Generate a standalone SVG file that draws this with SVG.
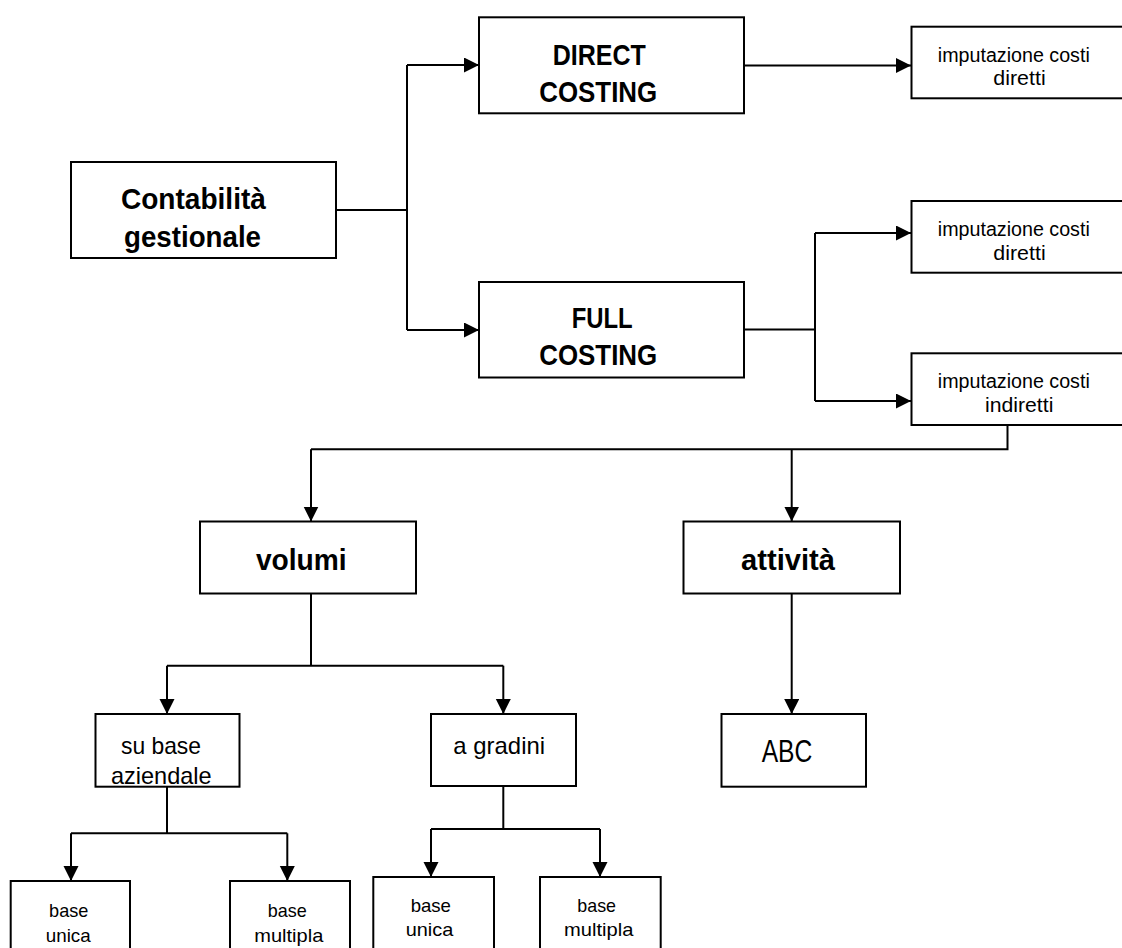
<svg xmlns="http://www.w3.org/2000/svg" width="1122" height="948" viewBox="0 0 1122 948">
<style>
.box{fill:#fff;stroke:#000;stroke-width:2}
.ln{fill:none;stroke:#000;stroke-width:2}
text{font-family:"Liberation Sans",Arial,sans-serif;fill:#000;text-anchor:middle}
.b{font-weight:bold;font-size:30px}
.r{font-size:20px}
.m{font-size:24px}
.s{font-size:19px}
.l{font-size:31px}
</style>
<defs>
<marker id="ah" markerUnits="userSpaceOnUse" markerWidth="16" markerHeight="16" refX="15" refY="7.5" orient="auto">
<path d="M0,0 L15,7.5 L0,15 Z" fill="#000"/>
</marker>
</defs>
<rect width="1122" height="948" fill="#fff"/>
<g id="connectors">
<path class="ln" d="M336,210 H407"/>
<path class="ln" d="M407,65 V330"/>
<path class="ln" d="M407,65 H479" marker-end="url(#ah)"/>
<path class="ln" d="M407,330 H479" marker-end="url(#ah)"/>
<path class="ln" d="M744,65.5 H911" marker-end="url(#ah)"/>
<path class="ln" d="M744,329.5 H815"/>
<path class="ln" d="M815,233 V401"/>
<path class="ln" d="M815,233 H911" marker-end="url(#ah)"/>
<path class="ln" d="M815,401 H911" marker-end="url(#ah)"/>
<path class="ln" d="M1007.5,425 V449.3 H311"/>
<path class="ln" d="M311,449.3 V521.5" marker-end="url(#ah)"/>
<path class="ln" d="M791.7,449.3 V521.5" marker-end="url(#ah)"/>
<path class="ln" d="M311,593.5 V665.7"/>
<path class="ln" d="M167,665.7 H503.3"/>
<path class="ln" d="M167,665.7 V714" marker-end="url(#ah)"/>
<path class="ln" d="M503.3,665.7 V714" marker-end="url(#ah)"/>
<path class="ln" d="M791.7,593.5 V714" marker-end="url(#ah)"/>
<path class="ln" d="M167,786.7 V833.3"/>
<path class="ln" d="M71,833.3 H287.3"/>
<path class="ln" d="M71,833.3 V881" marker-end="url(#ah)"/>
<path class="ln" d="M287.3,833.3 V881" marker-end="url(#ah)"/>
<path class="ln" d="M503.3,786 V829"/>
<path class="ln" d="M431,829 H600"/>
<path class="ln" d="M431,829 V877" marker-end="url(#ah)"/>
<path class="ln" d="M600,829 V877" marker-end="url(#ah)"/>
</g>
<g id="contabilita">
<rect class="box" x="71" y="162" width="265" height="96"/>
<text class="b" x="193.4" y="209.3" textLength="145" lengthAdjust="spacingAndGlyphs">Contabilità</text>
<text class="b" x="192.5" y="246.7" textLength="137" lengthAdjust="spacingAndGlyphs">gestionale</text>
</g>
<g id="direct">
<rect class="box" x="479" y="17.3" width="265" height="96"/>
<text class="b" x="599.3" y="65" textLength="93" lengthAdjust="spacingAndGlyphs">DIRECT</text>
<text class="b" x="598.2" y="101.7" textLength="118" lengthAdjust="spacingAndGlyphs">COSTING</text>
</g>
<g id="full">
<rect class="box" x="479" y="282" width="265" height="95.5"/>
<text class="b" x="602.2" y="328" textLength="61" lengthAdjust="spacingAndGlyphs">FULL</text>
<text class="b" x="598.2" y="365" textLength="118" lengthAdjust="spacingAndGlyphs">COSTING</text>
</g>
<g id="imp1">
<rect class="box" x="911.5" y="26.7" width="230" height="71.6"/>
<text class="r" x="1013.8" y="61.7" textLength="152" lengthAdjust="spacingAndGlyphs">imputazione costi</text>
<text class="r" x="1019.5" y="85" textLength="52.3" lengthAdjust="spacingAndGlyphs">diretti</text>
</g>
<g id="imp2">
<rect class="box" x="911.5" y="201" width="230" height="71.7"/>
<text class="r" x="1013.8" y="235.5" textLength="152" lengthAdjust="spacingAndGlyphs">imputazione costi</text>
<text class="r" x="1019.5" y="259.5" textLength="52.3" lengthAdjust="spacingAndGlyphs">diretti</text>
</g>
<g id="imp3">
<rect class="box" x="911.5" y="353.3" width="230" height="71.7"/>
<text class="r" x="1013.8" y="388.3" textLength="152" lengthAdjust="spacingAndGlyphs">imputazione costi</text>
<text class="r" x="1019.2" y="412.3" textLength="68.3" lengthAdjust="spacingAndGlyphs">indiretti</text>
</g>
<g id="volumi">
<rect class="box" x="200" y="521.5" width="216" height="72"/>
<text class="b" x="301.3" y="570" textLength="90.7" lengthAdjust="spacingAndGlyphs">volumi</text>
</g>
<g id="attivita">
<rect class="box" x="683.5" y="521.5" width="216.5" height="72"/>
<text class="b" x="788" y="570" textLength="94" lengthAdjust="spacingAndGlyphs">attività</text>
</g>
<g id="subase">
<rect class="box" x="95.5" y="714" width="144" height="72.7"/>
<text class="m" x="161" y="754" textLength="80" lengthAdjust="spacingAndGlyphs">su base</text>
<text class="m" x="161.3" y="784" textLength="100.7" lengthAdjust="spacingAndGlyphs">aziendale</text>
</g>
<g id="agradini">
<rect class="box" x="431" y="714" width="145" height="72"/>
<text class="m" x="499.2" y="754.3" textLength="91.7" lengthAdjust="spacingAndGlyphs">a gradini</text>
</g>
<g id="abc">
<rect class="box" x="721.5" y="714" width="144.5" height="72.7"/>
<text class="l" x="787" y="761.7" textLength="50.7" lengthAdjust="spacingAndGlyphs">ABC</text>
</g>
<g id="baseunica1">
<rect class="box" x="10.7" y="881" width="119.3" height="80"/>
<text class="s" x="68.7" y="916.7" textLength="39.3" lengthAdjust="spacingAndGlyphs">base</text>
<text class="s" x="68.2" y="941.7" textLength="45" lengthAdjust="spacingAndGlyphs">unica</text>
</g>
<g id="basemultipla1">
<rect class="box" x="230" y="881" width="120" height="80"/>
<text class="s" x="287.2" y="916.7" textLength="39" lengthAdjust="spacingAndGlyphs">base</text>
<text class="s" x="288.8" y="941.7" textLength="69" lengthAdjust="spacingAndGlyphs">multipla</text>
</g>
<g id="baseunica2">
<rect class="box" x="373.3" y="877" width="120.7" height="84"/>
<text class="s" x="430.8" y="911.7" textLength="40.3" lengthAdjust="spacingAndGlyphs">base</text>
<text class="s" x="429.5" y="936" textLength="47.6" lengthAdjust="spacingAndGlyphs">unica</text>
</g>
<g id="basemultipla2">
<rect class="box" x="540" y="877" width="120.7" height="84"/>
<text class="s" x="596.7" y="911.7" textLength="38.7" lengthAdjust="spacingAndGlyphs">base</text>
<text class="s" x="598.7" y="936" textLength="69.3" lengthAdjust="spacingAndGlyphs">multipla</text>
</g>
</svg>
